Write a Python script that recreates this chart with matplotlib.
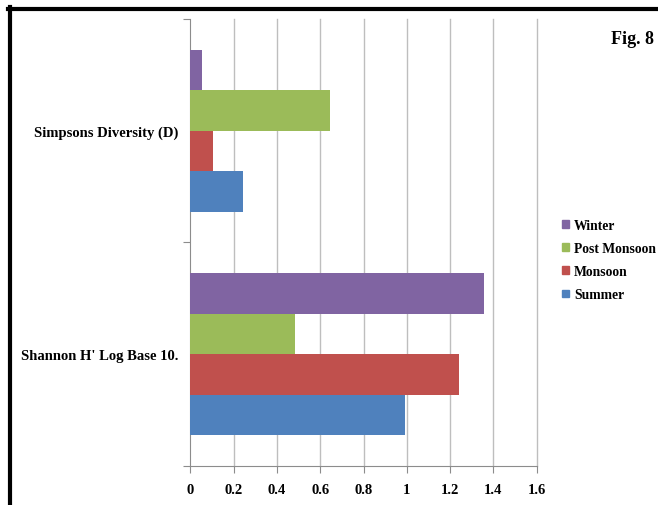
import matplotlib
matplotlib.use("Agg")
import matplotlib.pyplot as plt
from matplotlib.lines import Line2D
from matplotlib.patches import Patch

# diversity indices per season
categories = ["Shannon H' Log Base 10.", "Simpsons Diversity (D)"]
seasons = ["Summer", "Monsoon", "Post Monsoon", "Winter"]
summer = [0.99, 0.245]
monsoon = [1.24, 0.105]
post_monsoon = [0.485, 0.647]
winter = [1.355, 0.053]
xticks = [0, 0.2, 0.4, 0.6, 0.8, 1, 1.2, 1.4, 1.6]

colors = ["#4F81BD", "#C0504D", "#9BBB59", "#8064A2"]
series = [summer, monsoon, post_monsoon, winter]

plt.rcParams['font.family'] = ['Liberation Serif', 'DejaVu Serif']
plt.rcParams['font.weight'] = 'bold'

fig = plt.figure(figsize=(6.58, 5.06), dpi=100)
ax = fig.add_axes([0.2895, 0.0771, 0.5261, 0.8834])

h = 0.1815
centers = [0.5, 1.5]
for i, (vals, col, name) in enumerate(zip(series, colors, seasons)):
    offset = (i - 1.5) * h
    ax.barh([c + offset for c in centers], vals, height=h, color=col,
            label=name, zorder=3)

ax.set_xlim(0, 1.6)
ax.set_ylim(0, 2)
ax.set_xticks(xticks)
ax.set_xticklabels([f"{t:g}" for t in xticks], fontsize=10.5, fontweight='bold')
ax.set_yticks([0, 1, 2])
ax.set_yticklabels([])
ax.set_yticks(centers, minor=True)
ax.set_yticklabels(categories, minor=True, fontsize=10.5, fontweight='bold')
ax.tick_params(axis='y', which='minor', length=0, pad=9)
ax.tick_params(axis='y', which='major', length=5, color='#8C8C8C')
ax.tick_params(axis='x', length=5, color='#8C8C8C', pad=7)

# vertical gridlines, including the one at the right edge
for t in xticks[1:]:
    ax.axvline(t, color='#BEBEBE', linewidth=1, zorder=0, clip_on=False)
for s in ['top', 'right']:
    ax.spines[s].set_visible(False)
for s in ['left', 'bottom']:
    ax.spines[s].set_color('#8C8C8C')

handles = [Patch(color=colors[i], label=seasons[i]) for i in [3, 2, 1, 0]]
fig.legend(handles=handles, loc='upper left', bbox_to_anchor=(0.836, 0.59),
           frameon=False, handlelength=0.5, handleheight=0.5,
           handletextpad=0.35, labelspacing=0.75,
           prop={'weight': 'bold', 'size': 9.8})

fig.text(0.929, 0.914, "Fig. 8", fontsize=13, fontweight='bold', ha='left')

# black frame along top and left edges
fig.add_artist(Line2D([8 / 658, 1], [1 - 10 / 506, 1 - 10 / 506],
                      transform=fig.transFigure, color='black', linewidth=3))
fig.add_artist(Line2D([10 / 658, 10 / 658], [0, 1 - 8 / 506],
                      transform=fig.transFigure, color='black', linewidth=3))

fig.savefig("out.png", dpi=100)
